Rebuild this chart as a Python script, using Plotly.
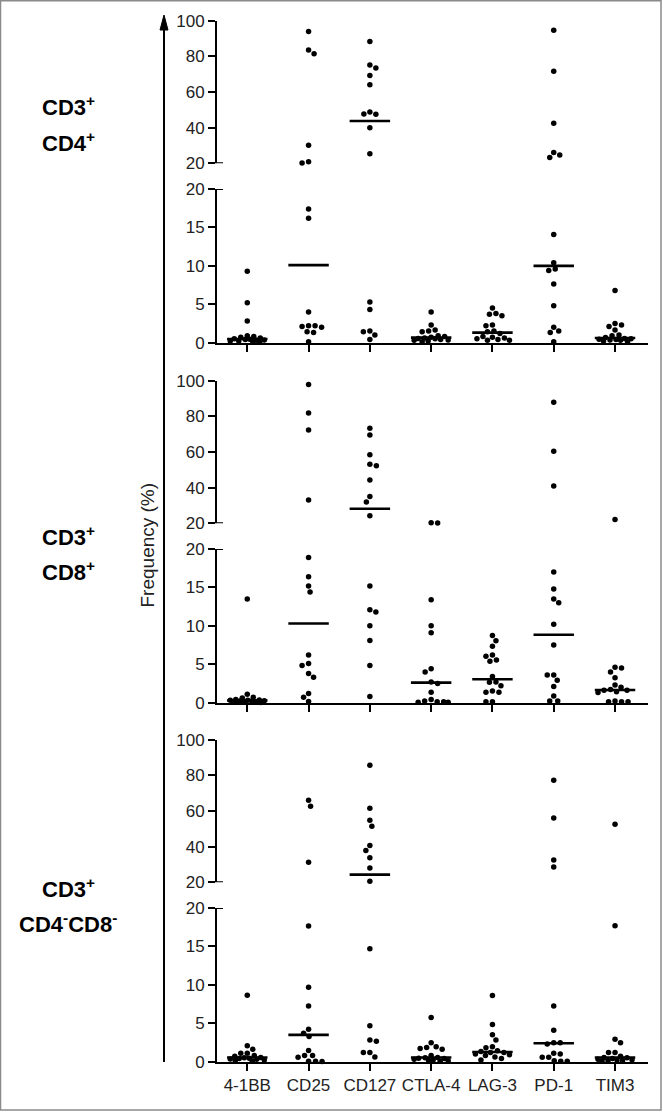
import numpy as np
import plotly.graph_objects as go

# ---------------- data ----------------
categories = ["4-1BB", "CD25", "CD127", "CTLA-4", "LAG-3", "PD-1", "TIM3"]

row_titles = [("CD3<sup>+</sup>", "CD4<sup>+</sup>"),
              ("CD3<sup>+</sup>", "CD8<sup>+</sup>"),
              ("CD3<sup>+</sup>", "CD4<sup>-</sup>CD8<sup>-</sup>")]

cd4_41bb = [9.3, 5.2, 2.8, 0.9, 0.8, 0.7, 0.6, 0.5, 0.45, 0.4, 0.35, 0.3, 0.2, 0.2, 0.1, 0.1]
cd4_cd25 = [94.0, 83.6, 81.5, 30.1, 20.9, 20.2, 17.4, 16.2, 4.0, 2.2, 2.1, 2.2, 2.0, 1.4, 1.3, 0.1]
cd4_cd127 = [88.4, 75.1, 73.5, 69.3, 64.1, 48.8, 47.7, 47.5, 40.0, 25.4, 5.3, 4.3, 1.5, 1.4, 1.0, 0.4]
cd4_ctla4 = [4.0, 2.3, 1.65, 1.5, 1.4, 0.9, 0.8, 0.7, 0.6, 0.55, 0.5, 0.4, 0.35, 0.3, 0.2, 0.1]
cd4_lag3 = [4.5, 3.8, 3.7, 3.5, 2.3, 2.2, 1.5, 1.4, 1.2, 0.8, 0.7, 0.6, 0.5, 0.4, 0.3, 0.3]
cd4_pd1 = [94.6, 71.6, 42.4, 26.0, 24.7, 23.2, 14.1, 10.4, 9.6, 9.4, 7.65, 4.8, 2.0, 1.5, 1.3, 0.1]
cd4_tim3 = [6.8, 2.5, 2.3, 2.1, 1.65, 1.0, 0.9, 0.65, 0.55, 0.5, 0.45, 0.4, 0.35, 0.3, 0.2, 0.1]

cd8_41bb = [13.5, 1.1, 0.7, 0.6, 0.4, 0.35, 0.3, 0.3, 0.25, 0.2, 0.2, 0.15, 0.1, 0.1, 0.05, 0.0]
cd8_cd25 = [97.8, 81.9, 72.3, 33.1, 18.9, 16.4, 15.2, 14.4, 6.2, 5.1, 4.85, 3.8, 3.3, 1.2, 0.7, 0.13]
cd8_cd127 = [73.3, 69.5, 58.5, 53.1, 52.3, 44.3, 35.1, 32.0, 24.3, 15.2, 12.1, 11.8, 10.0, 8.1, 4.85, 0.78]
cd8_ctla4 = [20.3, 20.2, 13.4, 10.0, 9.1, 4.4, 4.0, 2.7, 2.5, 1.35, 0.4, 0.2, 0.1, 0.1, 0.05, 0.05]
cd8_lag3 = [8.75, 8.05, 7.35, 6.2, 6.05, 5.55, 5.4, 3.4, 2.7, 2.65, 2.2, 1.5, 1.35, 1.35, 0.1, 0.1]
cd8_pd1 = [87.9, 60.4, 40.9, 17.0, 14.8, 13.5, 13.0, 10.2, 7.5, 3.6, 3.6, 2.9, 2.1, 0.87, 0.2, 0.2]
cd8_tim3 = [22.2, 4.6, 4.5, 4.0, 3.25, 2.3, 2.0, 1.7, 1.6, 1.6, 1.4, 1.3, 0.2, 0.1, 0.1, 0.1]

dn_41bb = [8.66, 2.08, 1.6, 1.1, 1.1, 0.8, 0.7, 0.55, 0.5, 0.45, 0.4, 0.35, 0.3, 0.2, 0.1, 0.05]
dn_cd25 = [66.0, 62.6, 31.2, 17.66, 9.7, 7.26, 4.2, 3.7, 3.26, 1.43, 0.78, 0.78, 0.56, 0.05, 0.05, 0.02]
dn_cd127 = [85.6, 61.5, 54.8, 51.4, 40.6, 37.8, 33.8, 28.0, 20.6, 14.7, 4.68, 2.8, 2.64, 1.17, 1.17, 0.6]
dn_ctla4 = [5.76, 2.47, 1.95, 1.85, 1.7, 1.6, 0.8, 0.55, 0.5, 0.45, 0.4, 0.3, 0.2, 0.15, 0.1, 0.05]
dn_lag3 = [8.6, 4.85, 3.5, 2.8, 1.95, 1.8, 1.4, 1.3, 1.2, 1.2, 1.0, 0.9, 0.8, 0.6, 0.4, 0.2]
dn_pd1 = [77.2, 56.1, 32.5, 28.6, 7.23, 4.1, 2.47, 2.47, 2.3, 1.1, 1.0, 0.56, 0.56, 0.1, 0.05, 0.05]
dn_tim3 = [52.5, 17.7, 2.9, 2.47, 1.17, 1.17, 0.7, 0.55, 0.5, 0.4, 0.3, 0.25, 0.2, 0.1, 0.1, 0.05]

panels = [
    [cd4_41bb, cd4_cd25, cd4_cd127, cd4_ctla4, cd4_lag3, cd4_pd1, cd4_tim3],
    [cd8_41bb, cd8_cd25, cd8_cd127, cd8_ctla4, cd8_lag3, cd8_pd1, cd8_tim3],
    [dn_41bb, dn_cd25, dn_cd127, dn_ctla4, dn_lag3, dn_pd1, dn_tim3],
]

BREAK = 20
lower_ticks = [0, 5, 10, 15, 20]
upper_ticks = [20, 40, 60, 80, 100]

# ---------------- layout geometry (pixels) ----------------
W, H = 663, 1112
X0, X1 = 217, 648
XR = [-0.494, 6.538]
PX_PER_CAT = (X1 - X0) / (XR[1] - XR[0])
panel_off = [0, 360, 719]
UP_TOP, UP_BOT, LO_TOP, LO_BOT = 20.7, 163.3, 189.1, 342.6

def py(px):
    return 1 - px / H

def px_x(px):
    return px / W

def ypix(v, off):
    if v >= BREAK:
        return off + UP_BOT - (v - BREAK) / (100 - BREAK) * (UP_BOT - UP_TOP)
    return off + LO_BOT - v / BREAK * (LO_BOT - LO_TOP)

def swarm(ys, dmin=6.3, maxoff=17):
    order = np.argsort(ys)
    placed = []
    offs = np.zeros(len(ys))
    flip = 1
    steps = np.arange(0, maxoff + 0.01, 0.5)
    for i in order:
        best = None
        best_fallback, best_d = 0.0, -1
        for step in steps:
            cands = [0.0] if step == 0 else [flip * step, -flip * step]
            for s in cands:
                d = min([np.hypot(s - ox, ys[i] - oy) for ox, oy in placed] or [99])
                if d >= dmin:
                    best = s
                    break
                if d > best_d + 0.3:
                    best_fallback, best_d = s, d
            if best is not None:
                break
        if best is None:
            best = best_fallback
        if best != 0:
            flip = -flip
        offs[i] = best
        placed.append((best, ys[i]))
    return offs

fig = go.Figure()
layout = {}
font_family = "Liberation Sans, Arial, sans-serif"
axis_common = dict(showline=True, linewidth=2, linecolor="black", ticks="outside",
                   ticklen=7, tickwidth=2, tickcolor="black", showgrid=False,
                   zeroline=False, automargin=False,
                   tickfont=dict(size=17, color="#222", family=font_family))
shapes = []

for p, groups in enumerate(panels):
    off = panel_off[p]
    xi = p + 1
    ylo = 2 * p + 1
    yup = 2 * p + 2
    xname = "x" if xi == 1 else f"x{xi}"
    ylon = "y" if ylo == 1 else f"y{ylo}"
    yupn = f"y{yup}"

    layout["xaxis" if xi == 1 else f"xaxis{xi}"] = dict(
        axis_common, domain=[px_x(X0), px_x(X1)], anchor=ylon, range=XR,
        tickmode="array", tickvals=list(range(len(categories))),
        ticktext=categories, showticklabels=(p == 2))
    layout["yaxis" if ylo == 1 else f"yaxis{ylo}"] = dict(
        axis_common, domain=[py(off + LO_BOT), py(off + LO_TOP)], anchor=xname,
        range=[0, BREAK], tickmode="array", tickvals=lower_ticks)
    layout[f"yaxis{yup}"] = dict(
        axis_common, domain=[py(off + UP_BOT), py(off + UP_TOP)], anchor=xname,
        range=[BREAK, 100], tickmode="array", tickvals=upper_ticks)

    for ci, vals in enumerate(groups):
        vals = np.array(vals, dtype=float)
        ys = np.array([ypix(v, off) for v in vals])
        offs = swarm(ys) / PX_PER_CAT
        lo = vals < BREAK
        up = ~lo
        for mask, yax in ((lo, ylon), (up, yupn)):
            if mask.any():
                fig.add_trace(go.Scatter(
                    x=ci + offs[mask], y=vals[mask], xaxis=xname, yaxis=yax,
                    mode="markers", marker=dict(size=5.5, color="black"),
                    cliponaxis=False, showlegend=False, hoverinfo="y"))
        med = float(np.median(vals))
        fig.add_trace(go.Scatter(
            x=[ci - 0.33, ci + 0.33], y=[med, med], xaxis=xname,
            yaxis=(ylon if med < BREAK else yupn), mode="lines",
            line=dict(color="black", width=2.6), cliponaxis=False,
            showlegend=False, hoverinfo="skip"))

    # axis-break marks
    for yref in (ylon, yupn):
        shapes.append(dict(type="line", xref=f"{xname} domain", yref=yref,
                           x0=-0.018, x1=0.014, y0=BREAK, y1=BREAK,
                           line=dict(color="black", width=2)))

    # row titles
    t1, t2 = row_titles[p]
    cy1 = [109, 538.7, 890.5][p]
    cy2 = [145, 574, 925.5][p]
    for txt, cy in ((t1, cy1), (t2, cy2)):
        fig.add_annotation(text=f"<b>{txt}</b>", x=px_x(68), y=py(cy - 3), xref="paper",
                           yref="paper", showarrow=False, xanchor="center", yanchor="middle",
                           font=dict(size=22, color="black", family=font_family))

# y-axis title with arrow
fig.add_annotation(text="Frequency (%)", x=px_x(146.5), y=py(545), xref="paper", yref="paper",
                   showarrow=False, textangle=-90, xanchor="center", yanchor="middle",
                   font=dict(size=19, color="#222", family=font_family))
shapes.append(dict(type="line", xref="paper", yref="paper", x0=px_x(164), x1=px_x(164),
                   y0=py(1062), y1=py(26), line=dict(color="black", width=2)))
shapes.append(dict(type="path", xref="paper", yref="paper",
                   path=f"M {px_x(164)} {py(15)} L {px_x(160)} {py(30)} L {px_x(168)} {py(30)} Z",
                   fillcolor="black", line=dict(color="black", width=1)))
# frame
shapes.append(dict(type="rect", xref="paper", yref="paper", x0=px_x(0.5), x1=px_x(661),
                   y0=py(1110), y1=py(0.7), line=dict(color="#8a8a8a", width=1.5)))

fig.update_layout(**layout)
fig.update_layout(width=W, height=H,
                  margin=dict(l=0, r=0, t=0, b=0, pad=0, autoexpand=False),
                  paper_bgcolor="white", plot_bgcolor="white", shapes=shapes,
                  font=dict(family=font_family), showlegend=False)

fig.write_html("out.html", config={"displayModeBar": False},
               post_script="document.body.style.margin='0';document.body.style.padding='0';")
